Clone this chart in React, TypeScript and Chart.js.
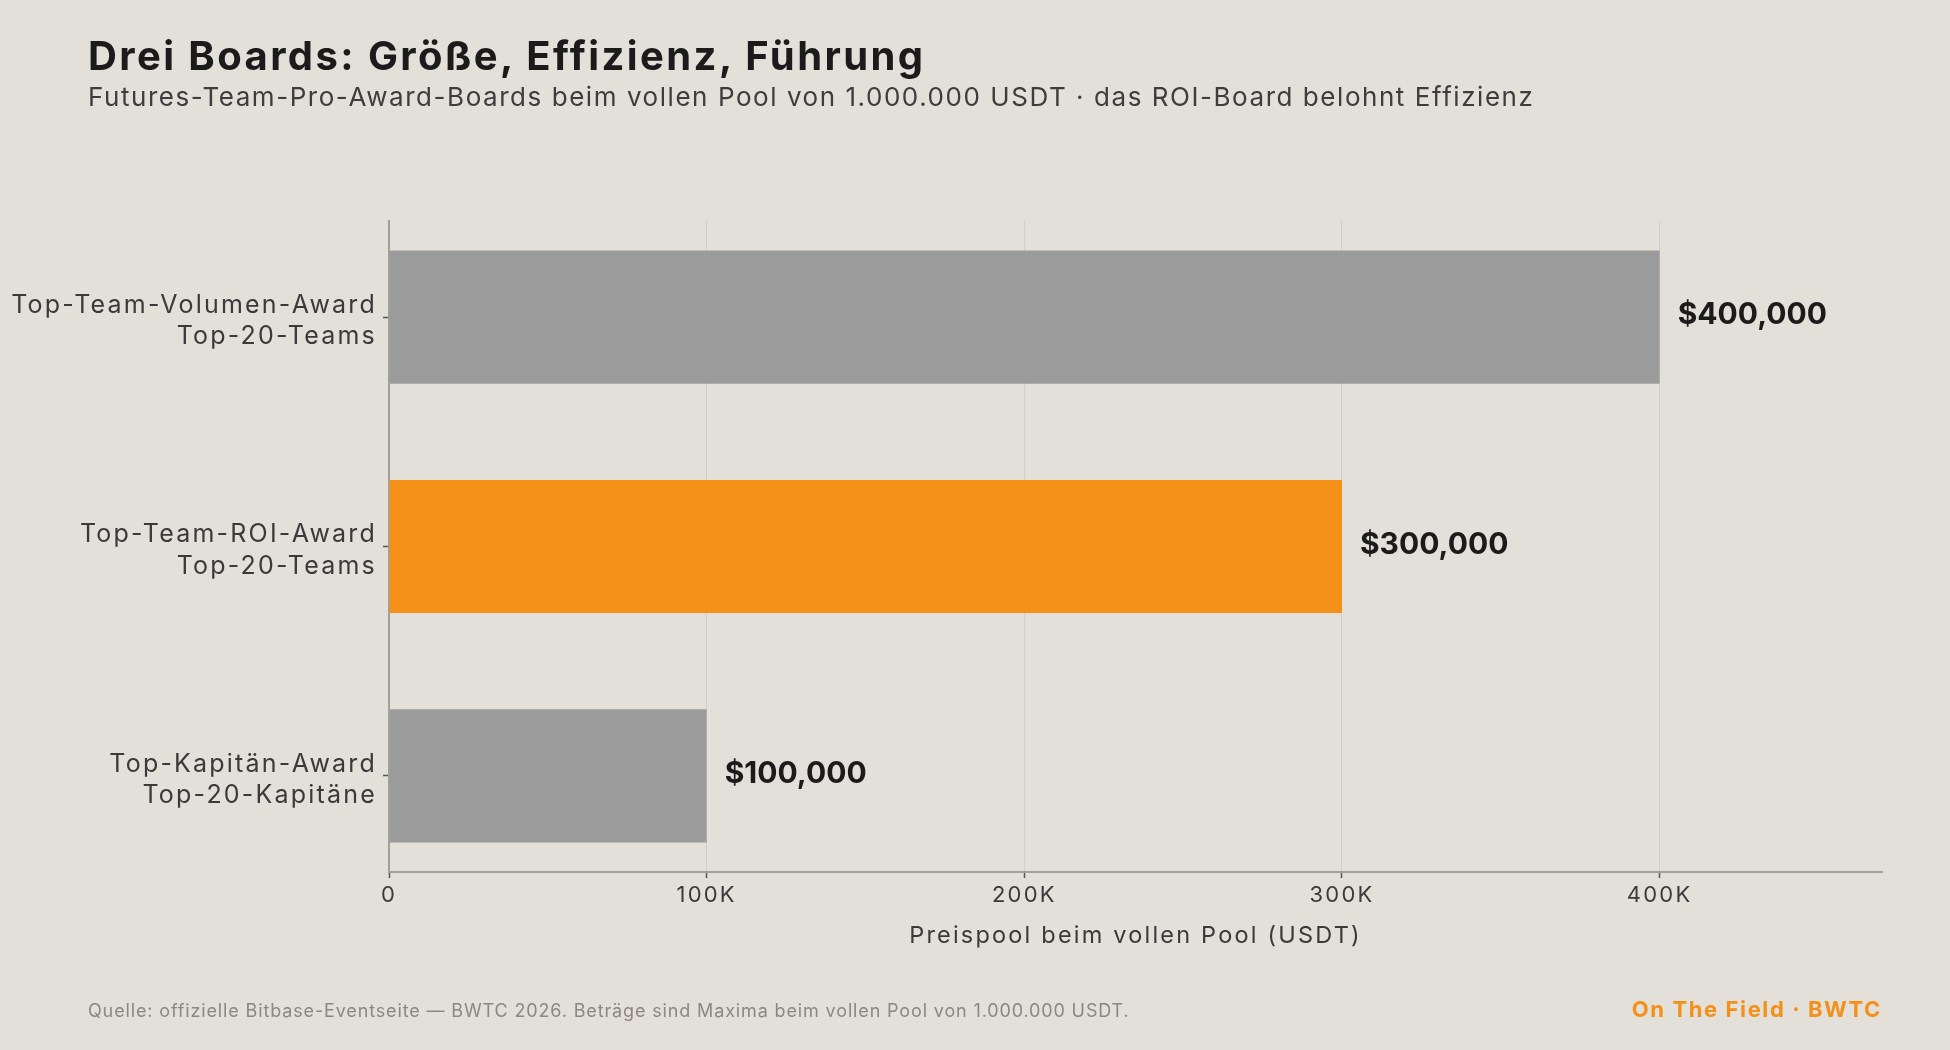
import React, { useEffect, useRef } from "react";
import { Chart, registerables } from "chart.js";

Chart.register(...registerables);

const categories: string[][] = [
  ["Top-Team-Volumen-Award", "Top-20-Teams"],
  ["Top-Team-ROI-Award", "Top-20-Teams"],
  ["Top-Kapitän-Award", "Top-20-Kapitäne"],
];
const values: number[] = [400000, 300000, 100000];
const barColors: string[] = ["#9b9b9b", "#f59019", "#9b9b9b"];
const xTickValues: number[] = [0, 100000, 200000, 300000, 400000];
const xTickLabels: string[] = ["0", "100K", "200K", "300K", "400K"];
const xMax = 470000;

const titleText = "Drei Boards: Größe, Effizienz, Führung";
const subtitleText =
  "Futures-Team-Pro-Award-Boards beim vollen Pool von 1.000.000 USDT · das ROI-Board belohnt Effizienz";
const xAxisTitle = "Preispool beim vollen Pool (USDT)";
const sourceText =
  "Quelle: offizielle Bitbase-Eventseite — BWTC 2026. Beträge sind Maxima beim vollen Pool von 1.000.000 USDT.";
const brandText = "On The Field · BWTC";

const FONT = "Inter, 'Open Sans', 'DejaVu Sans', sans-serif";
const BG = "#e3dfd9";

const spacingPlugin = {
  id: "axisSpacing",
  beforeDraw(chart: any) {
    (chart.ctx as any).letterSpacing = "2.2px";
  },
};

const valueLabelPlugin = {
  id: "valueLabels",
  afterDatasetsDraw(chart: any) {
    const ctx = chart.ctx;
    const meta = chart.getDatasetMeta(0);
    ctx.save();
    (ctx as any).letterSpacing = "0px";
    ctx.font = `700 30px ${FONT}`;
    ctx.fillStyle = "#1b1b1b";
    ctx.textAlign = "left";
    ctx.textBaseline = "middle";
    meta.data.forEach((bar: any, i: number) => {
      const v = values[i];
      ctx.fillText("$" + v.toLocaleString("en-US"), bar.x + 18, bar.y - 2);
    });
    ctx.restore();
  },
};

export default function App() {
  const canvasRef = useRef<HTMLCanvasElement | null>(null);

  useEffect(() => {
    document.body.style.margin = "0";
    document.body.style.background = BG;
    const canvas = canvasRef.current;
    if (!canvas) return;
    Chart.defaults.font.family = FONT;
    const chart = new Chart(canvas, {
      type: "bar",
      data: {
        datasets: [
          {
            data: values.map((v, i) => ({ x: v, y: i })) as any,
            backgroundColor: barColors,
            borderWidth: 0,
            categoryPercentage: 1,
            barPercentage: 0.58,
          },
        ],
      },
      options: {
        indexAxis: "y",
        responsive: false,
        animation: false,
        layout: { padding: { left: 0, right: 68, top: 221, bottom: 100 } },
        plugins: {
          legend: { display: false },
          tooltip: { enabled: false },
          title: { display: false },
        },
        scales: {
          x: {
            type: "linear",
            position: "bottom",
            min: 0,
            max: xMax,
            offset: false,
            afterBuildTicks: (s: any) => {
              s.ticks = xTickValues.map((v) => ({ value: v }));
            },
            afterFit: (s: any) => {
              s.height = 78;
            },
            ticks: {
              callback: (v: any) => {
                const idx = xTickValues.indexOf(Number(v));
                return idx >= 0 ? xTickLabels[idx] : "";
              },
              font: { size: 22, family: FONT },
              color: "#3a3a3a",
              padding: 4,
              maxRotation: 0,
            },
            grid: {
              color: "#d2cec8",
              lineWidth: 1,
              offset: false,
              drawTicks: true,
              tickLength: 6,
              tickColor: "#555555",
              tickWidth: 1.5,
            },
            border: { display: true, color: "#a3a09b", width: 2 },
            title: {
              display: true,
              text: xAxisTitle,
              font: { size: 23.5, family: FONT },
              color: "#3a3a3a",
              padding: { top: 0, bottom: 0 },
            },
          },
          y: {
            type: "linear",
            position: "left",
            reverse: true,
            min: -0.419,
            max: 2.419,
            offset: false,
            afterBuildTicks: (s: any) => {
              s.ticks = categories.map((_, i) => ({ value: i }));
            },
            afterFit: (s: any) => {
              s.width = 389;
            },
            ticks: {
              callback: (v: any) => categories[Number(v)] ?? "",
              font: { size: 25, family: FONT, lineHeight: 1.25 },
              color: "#3a3a3a",
              padding: 6,
              labelOffset: 4,
            },
            grid: {
              offset: false,
              drawOnChartArea: false,
              drawTicks: true,
              tickLength: 6,
              tickColor: "#555555",
              tickWidth: 1.5,
            },
            border: { display: true, color: "#a3a09b", width: 2 },
          },
        },
      },
      plugins: [spacingPlugin, valueLabelPlugin],
    } as any);
    return () => chart.destroy();
  }, []);

  return (
    <div
      style={{
        position: "fixed",
        left: 0,
        top: 0,
        width: 1950,
        height: 1050,
        background: BG,
        overflow: "hidden",
        fontFamily: FONT,
      }}
    >
      <canvas
        ref={canvasRef}
        width={1950}
        height={1050}
        style={{ position: "absolute", left: 0, top: 0, width: 1950, height: 1050, display: "block" }}
      />
      <div
        style={{
          position: "absolute",
          left: 88,
          top: 36,
          fontSize: 40,
          lineHeight: "40px",
          fontWeight: 700,
          letterSpacing: "2.4px",
          color: "#1b1b1b",
          whiteSpace: "nowrap",
        }}
      >
        {titleText}
      </div>
      <div
        style={{
          position: "absolute",
          left: 88,
          top: 84,
          fontSize: 26,
          lineHeight: "26px",
          fontWeight: 400,
          letterSpacing: "1.55px",
          color: "#3d3d3d",
          whiteSpace: "nowrap",
        }}
      >
        {subtitleText}
      </div>
      <div
        style={{
          position: "absolute",
          left: 88,
          top: 1002,
          fontSize: 18,
          lineHeight: "18px",
          letterSpacing: "0.86px",
          color: "#8c8782",
          whiteSpace: "nowrap",
        }}
      >
        {sourceText}
      </div>
      <div
        style={{
          position: "absolute",
          right: 68,
          top: 998,
          fontSize: 22,
          lineHeight: "22px",
          fontWeight: 700,
          letterSpacing: "1.6px",
          color: "#f39019",
          whiteSpace: "nowrap",
        }}
      >
        {brandText}
      </div>
    </div>
  );
}
